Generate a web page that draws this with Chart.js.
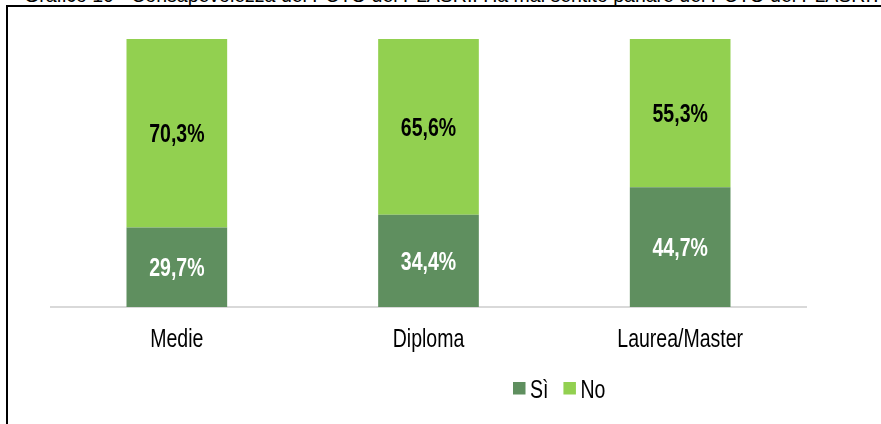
<!DOCTYPE html>
<html>
<head>
<meta charset="utf-8">
<script src="https://cdn.jsdelivr.net/npm/chart.js@4"></script>
<style>
  html, body { margin: 0; padding: 0; background: #fff; overflow: hidden; }
  body { width: 881px; height: 424px; position: relative; }
  #title {
    position: absolute; left: 24px; top: -16px; white-space: nowrap;
    font: 19.5px "Liberation Sans", Arial, sans-serif; color: #000;
  }
  #frame {
    position: absolute; left: 6px; top: 5px; width: 900px; height: 440px;
    border-left: 2px solid #000; border-top: 2px solid #000;
  }
  #wrap { position: absolute; left: 0; top: 0; width: 881px; height: 424px; }
</style>
</head>
<body>
<div id="title">Grafico 10 - Consapevolezza del PCTO del PLASRI: Ha mai sentito parlare dei PCTO del PLASRI?</div>
<div id="frame"></div>
<div id="wrap"><canvas id="chart" width="881" height="424"></canvas></div>
<script>
var categories = ['Medie', 'Diploma', 'Laurea/Master'];
var siValues = [29.7, 34.4, 44.7];
var noValues = [70.3, 65.6, 55.3];
var seriesNames = ['Sì', 'No'];
var seriesColors = ['#5f8f5f', '#92d050'];
var labelColors = ['#ffffff', '#000000'];

var fontFamily = '"Liberation Sans", Arial, sans-serif';
var narrow = 0.78; // squeeze text to look like Arial Narrow

function narrowText(ctx, text, x, y, align) {
  ctx.save();
  ctx.translate(x, y);
  ctx.scale(narrow, 1);
  ctx.textAlign = align || 'center';
  ctx.textBaseline = 'alphabetic';
  ctx.fillText(text, 0, 0);
  ctx.restore();
}

// percent labels, category labels and legend, all in narrow text
var textLayer = {
  id: 'textLayer',
  afterDatasetsDraw: function(chart) {
    var ctx = chart.ctx;
    var xs = chart.scales.x;

    ctx.save();
    ctx.font = 'bold 25px ' + fontFamily;
    chart.data.datasets.forEach(function(ds, i) {
      var meta = chart.getDatasetMeta(i);
      meta.data.forEach(function(bar, j) {
        var mid = (bar.y + bar.base) / 2;
        ctx.fillStyle = labelColors[i];
        narrowText(ctx, ds.data[j].toFixed(1).replace('.', ',') + '%', bar.x, mid + 9);
      });
    });

    ctx.font = '25px ' + fontFamily;
    ctx.fillStyle = '#000';
    chart.data.labels.forEach(function(lab, i) {
      narrowText(ctx, lab, xs.getPixelForTick(i), xs.bottom + 40);
    });

    // legend
    var lx = 513, ly = 382;
    chart.data.datasets.forEach(function(ds) {
      ctx.fillStyle = ds.backgroundColor;
      ctx.fillRect(lx, ly, 12.5, 12.5);
      ctx.fillStyle = '#000';
      narrowText(ctx, ds.label, lx + 17, ly + 16, 'left');
      lx += 17 + ctx.measureText(ds.label).width * narrow + 15;
    });
    ctx.restore();
  }
};

var ctx = document.getElementById('chart').getContext('2d');
var myChart = new Chart(ctx, {
  type: 'bar',
  data: {
    labels: categories,
    datasets: [
      { label: seriesNames[0], data: siValues, backgroundColor: seriesColors[0] },
      { label: seriesNames[1], data: noValues, backgroundColor: seriesColors[1] }
    ]
  },
  options: {
    responsive: false,
    animation: false,
    categoryPercentage: 1,
    barPercentage: 0.4,
    layout: { padding: { left: 51, right: 75, top: 39, bottom: 117 } },
    scales: {
      x: {
        stacked: true,
        grid: { display: false, drawTicks: false },
        border: { color: '#d9d9d9', width: 2 },
        ticks: { display: false }
      },
      y: {
        stacked: true,
        display: false,
        min: 0,
        max: 100
      }
    },
    plugins: {
      legend: { display: false },
      tooltip: { enabled: false }
    }
  },
  plugins: [textLayer]
});
</script>
</body>
</html>
